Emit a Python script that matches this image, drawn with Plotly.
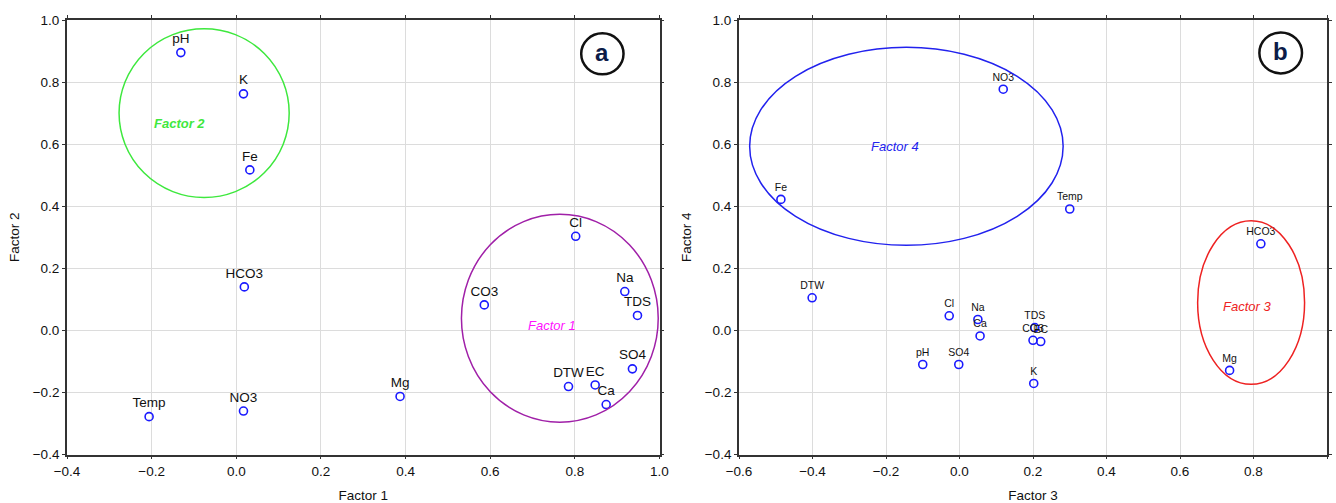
import plotly.graph_objects as go

# Panel a: Factor 1 vs Factor 2 loadings
vars_a = ["pH", "K", "Fe", "HCO3", "Temp", "NO3", "Mg", "CO3", "Cl", "Na", "TDS", "SO4", "DTW", "EC", "Ca"]
factor1 = [-0.131, 0.017, 0.032, 0.019, -0.206, 0.017, 0.387, 0.586, 0.802, 0.918, 0.948, 0.936, 0.785, 0.848, 0.874]
factor2 = [0.895, 0.762, 0.517, 0.140, -0.278, -0.260, -0.213, 0.082, 0.303, 0.125, 0.048, -0.124, -0.181, -0.176, -0.239]

# Panel b: Factor 3 vs Factor 4 loadings
vars_b = ["Fe", "NO3", "Temp", "DTW", "HCO3", "Mg", "Cl", "Na", "Ca", "TDS", "CO3", "EC", "pH", "SO4", "K"]
factor3 = [-0.486, 0.119, 0.300, -0.401, 0.820, 0.735, -0.028, 0.050, 0.056, 0.205, 0.200, 0.221, -0.100, -0.002, 0.202]
factor4 = [0.422, 0.777, 0.391, 0.105, 0.279, -0.129, 0.047, 0.035, -0.018, 0.009, -0.032, -0.036, -0.110, -0.110, -0.171]

x_ticks_a = [-0.4, -0.2, 0.0, 0.2, 0.4, 0.6, 0.8, 1.0]
x_ticks_b = [-0.6, -0.4, -0.2, 0.0, 0.2, 0.4, 0.6, 0.8, 1.0]
y_ticks = [-0.4, -0.2, 0.0, 0.2, 0.4, 0.6, 0.8, 1.0]

W, H = 1336, 503
FONT = "Liberation Sans, Arial, sans-serif"
PT = "#1a1aff"

fig = go.Figure()
fig.add_trace(go.Scatter(
    x=factor1, y=factor2, text=vars_a, mode="markers+text", textposition="top center",
    textfont=dict(size=13.5, color="#111", family=FONT),
    marker=dict(symbol="circle-open", size=8, color=PT, line=dict(width=1.6, color=PT)),
    xaxis="x", yaxis="y", showlegend=False, cliponaxis=False))
fig.add_trace(go.Scatter(
    x=factor3, y=factor4, text=vars_b, mode="markers+text", textposition="top center",
    textfont=dict(size=10.5, color="#111", family=FONT),
    marker=dict(symbol="circle-open", size=8, color=PT, line=dict(width=1.6, color=PT)),
    xaxis="x2", yaxis="y2", showlegend=False, cliponaxis=False))

ydom = [(H - 454.5) / H, (H - 20) / H]
axcommon = dict(showgrid=True, gridcolor="#dcdcdc", gridwidth=1, zeroline=False,
                showline=True, linecolor="#333", linewidth=1.8, mirror="ticks",
                ticks="outside", ticklen=3, tickcolor="#333", tickwidth=1.2,
                tickfont=dict(size=13.5, color="#111", family=FONT),
                tickformat=".1f", automargin=False)

fig.update_layout(
    width=W, height=H, margin=dict(l=0, r=0, t=0, b=0),
    paper_bgcolor="white", plot_bgcolor="white",
    font=dict(family=FONT, color="#111"),
    xaxis=dict(domain=[67 / W, 659.5 / W], range=[-0.4, 1.0], tickvals=x_ticks_a, anchor="y",
               title=dict(text="Factor 1", font=dict(size=13.5), standoff=14), **axcommon),
    yaxis=dict(domain=ydom, range=[-0.4, 1.0], tickvals=y_ticks, anchor="x",
               title=dict(text="Factor 2", font=dict(size=13.5), standoff=10), **axcommon),
    xaxis2=dict(domain=[739 / W, 1327 / W], range=[-0.6, 1.0], tickvals=x_ticks_b, anchor="y2",
                title=dict(text="Factor 3", font=dict(size=13.5), standoff=14), **axcommon),
    yaxis2=dict(domain=ydom, range=[-0.4, 1.0], tickvals=y_ticks, anchor="x2",
                title=dict(text="Factor 4", font=dict(size=13.5), standoff=10), **axcommon),
)

shapes = [
    dict(type="circle", xref="x", yref="y", x0=-0.277, x1=0.125, y0=0.428, y1=0.972,
         line=dict(color="#3ee83e", width=1.5)),
    dict(type="circle", xref="x", yref="y", x0=0.532, x1=0.997, y0=-0.296, y1=0.374,
         line=dict(color="#a020a8", width=1.5)),
    dict(type="circle", xref="x2", yref="y2", x0=-0.571, x1=0.282, y0=0.274, y1=0.912,
         line=dict(color="#2222ee", width=1.5)),
    dict(type="circle", xref="x2", yref="y2", x0=0.648, x1=0.939, y0=-0.174, y1=0.353,
         line=dict(color="#ee2222", width=1.5)),
    # badges
    dict(type="circle", xref="x", yref="y", x0=0.865 - 0.050, x1=0.865 + 0.050,
         y0=0.891 - 0.066, y1=0.891 + 0.066, line=dict(color="#111", width=2.5)),
    dict(type="circle", xref="x2", yref="y2", x0=0.874 - 0.058, x1=0.874 + 0.058,
         y0=0.894 - 0.066, y1=0.894 + 0.066, line=dict(color="#111", width=2.5)),
]
fig.update_layout(shapes=shapes)

annos = [
    dict(x=-0.134, y=0.665, xref="x", yref="y", text="<b><i>Factor 2</i></b>",
         font=dict(size=13, color="#3ee83e", family=FONT)),
    dict(x=0.746, y=0.017, xref="x", yref="y", text="<i>Factor 1</i>",
         font=dict(size=13, color="#ff10ff", family=FONT)),
    dict(x=-0.176, y=0.592, xref="x2", yref="y2", text="<i>Factor 4</i>",
         font=dict(size=13, color="#2222ee", family=FONT)),
    dict(x=0.782, y=0.078, xref="x2", yref="y2", text="<i>Factor 3</i>",
         font=dict(size=13, color="#ee2222", family=FONT)),
    dict(x=0.865, y=0.895, xref="x", yref="y", text="<b>a</b>",
         font=dict(size=24, color="#0c1c48", family=FONT)),
    dict(x=0.874, y=0.898, xref="x2", yref="y2", text="<b>b</b>",
         font=dict(size=24, color="#0c1c48", family=FONT)),
]
for a in annos:
    a["showarrow"] = False
fig.update_layout(annotations=annos)

fig.write_html("out.html", config={"displayModeBar": False},
               post_script="document.body.style.margin='0';document.body.style.overflow='hidden';")
